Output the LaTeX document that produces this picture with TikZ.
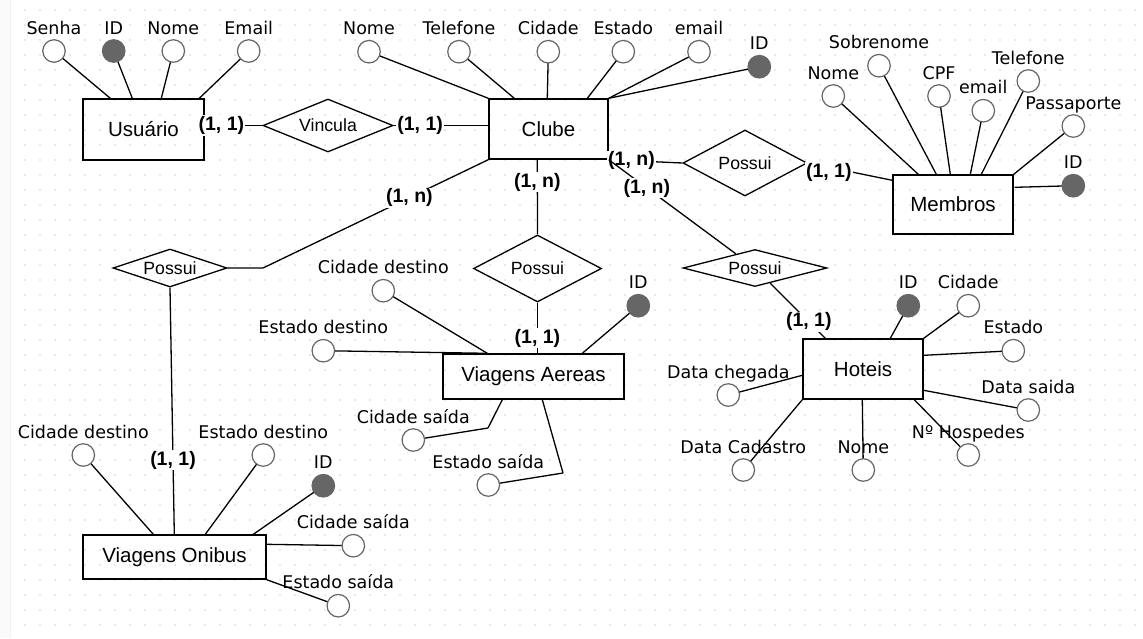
\documentclass[tikz,border=0pt]{standalone}
\usepackage{fontspec}
\usetikzlibrary{shapes.geometric,calc}
\newfontfamily\attrfont{DejaVu Sans}
\newfontfamily\entfont{Liberation Sans}
\definecolor{attrgray}{HTML}{666666}
\definecolor{dotgray}{HTML}{D2D2D2}

\begin{document}
\begin{tikzpicture}[x=1pt,y=-1pt,label distance=0.8pt,
    ent/.style={draw,line width=1.4pt,inner sep=0pt,font=\entfont\fontsize{20.5}{24}\selectfont},
    rel/.style={diamond,draw,line width=1.3pt,inner sep=0pt,font=\entfont\fontsize{17.7}{21}\selectfont},
    attr/.style={circle,draw=attrgray,fill=white,line width=1.2pt,minimum size=22.5pt,inner sep=0pt},
    key/.style={attr,fill=attrgray},
    lbl/.style={inner sep=0pt,text height=13pt,text depth=4pt,font=\attrfont\fontsize{17.5}{20}\selectfont},
    card/.style={fill=white,inner sep=1pt,font=\entfont\bfseries\fontsize{19.5}{22}\selectfont},
    link/.style={line width=1.3pt}]
  \useasboundingbox (0,0) rectangle (1143,638);
  % background grid
  \fill[white] (0,0) rectangle (1143,638);
  \fill[gray!4] (0,0) rectangle (10,638);
  \draw[gray!12] (10,0) -- (10,638);
  \foreach \i in {0,...,74}
    \foreach \j in {0,...,41}
      \fill[dotgray] ({25+15*\i},{10+15*\j}) circle (0.9);

  % entities
  \node[ent,minimum width=121pt,minimum height=61pt] (usuario) at (143.5,129.5) {Usuário};
  \node[ent,minimum width=119pt,minimum height=60pt] (clube) at (548.5,129) {Clube};
  \node[ent,minimum width=120pt,minimum height=59pt] (membros) at (953,204.5) {Membros};
  \node[ent,minimum width=181pt,minimum height=45pt] (viagensA) at (533.5,376.5) {Viagens Aereas};
  \node[ent,minimum width=120pt,minimum height=60pt] (hoteis) at (863,369) {Hoteis};
  \node[ent,minimum width=183pt,minimum height=44pt] (viagensO) at (174.5,557) {Viagens Onibus};

  % relationships
  \node[rel,minimum width=130pt,minimum height=53pt,aspect=2.45] (vincula) at (328,125.5) {Vincula};
  \node[rel,minimum width=124pt,minimum height=66pt,aspect=1.9] (possuiM) at (745,163) {Possui};
  \node[rel,minimum width=114pt,minimum height=38pt,aspect=3] (possuiL) at (170,268) {Possui};
  \node[rel,minimum width=128pt,minimum height=67pt,aspect=1.9] (possuiA) at (537.5,268.5) {Possui};
  \node[rel,minimum width=144pt,minimum height=37pt,aspect=3.9] (possuiH) at (755,268) {Possui};

  % bends of the saida attributes
  \coordinate (vaCidSbend) at (488,428);
  \coordinate (vaEstSbend) at (563,473);
  \draw[link] ($(viagensA.south west)+(60,0)$) -- (vaCidSbend);
  \draw[link] ($(viagensA.south west)+(100,0)$) -- (vaEstSbend);

  % attributes
  \foreach \n/\s/\p/\t/\e/\o in {
      usSenha/attr/{54,51}/Senha/usuario.north west/{28,0},
      usID/key/{113.7,51}/ID/usuario.north west/{50,0},
      usNome/attr/{173.3,51}/Nome/usuario.north west/{79,0},
      usEmail/attr/{248.7,51}/Email/usuario.north west/{117,0},
      clNome/attr/{369,51.7}/Nome/clube.north west/{0,0},
      clTel/attr/{459,51.7}/Telefone/clube.north west/{26,0},
      clCid/attr/{548.3,51.7}/Cidade/clube.north west/{59,0},
      clEst/attr/{623.3,51.7}/Estado/clube.north west/{99,0},
      clEmail/attr/{699,51.7}/email/clube.north east/{0,0},
      clID/key/{759.3,66.7}/ID/clube.north east/{0,0},
      meNome/attr/{833.3,96}/Nome/membros.north west/{26,0},
      meSobre/attr/{879,65.7}/Sobrenome/membros.north west/{44,0},
      meCPF/attr/{939,96}/CPF/membros.north west/{58,0},
      meEmail/attr/{983.3,110.7}/email/membros.north west/{78,0},
      meTel/attr/{1028.3,81}/Telefone/membros.north west/{89,0},
      mePass/attr/{1073.3,126}/Passaporte/membros.north east/{0,0},
      meID/key/{1073.3,185.7}/ID/membros.north east/{1,13},
      vaCidD/attr/{383.3,290.7}/Cidade destino/viagensA.north west/{45,0},
      vaEstD/attr/{323.3,350.7}/Estado destino/viagensA.north west/{45,0},
      vaID/key/{638.3,305.7}/ID/viagensA.north west/{140,0},
      vaCidS/attr/{413.3,440}/Cidade saída/vaCidSbend/{0,0},
      vaEstS/attr/{488.3,485}/Estado saída/vaEstSbend/{0,0},
      hoID/key/{908.3,305.7}/ID/hoteis.north west/{88,0},
      hoCid/attr/{968.3,305.7}/Cidade/hoteis.north east/{0,0},
      hoEst/attr/{1013.3,350.7}/Estado/hoteis.north east/{0,17},
      hoDataS/attr/{1028.3,410}/Data saida/hoteis.north east/{0,52},
      hoHosp/attr/{968.3,455}/Nº Hospedes/hoteis.south west/{112,0},
      hoNome/attr/{863.3,470}/Nome/hoteis.south west/{60,0},
      hoDataC/attr/{743.3,470}/Data Cadastro/hoteis.south west/{0,0},
      hoCheg/attr/{728.3,395}/Data chegada/hoteis.north west/{0,37},
      voCidD/attr/{83.3,455}/Cidade destino/viagensO.north west/{71,0},
      voEstD/attr/{263.3,455}/Estado destino/viagensO.north west/{123,0},
      voID/key/{323.3,485.7}/ID/viagensO.north west/{171,0},
      voCidS/attr/{353.3,545.7}/Cidade saída/viagensO.north east/{0,10},
      voEstS/attr/{338.3,605.7}/Estado saída/viagensO.south east/{0,0}}{
    \draw[link] (\p) -- ($(\e)+(\o)$);
    \node[\s,label={[lbl]above:\t}] (\n) at (\p) {};
  }

  % relationship links
  \draw[link] (usuario.east |- vincula.west) -- node[card,pos=0.29] {(1, 1)} (vincula.west);
  \draw[link] (vincula.east) -- node[card,pos=0.28] {(1, 1)} (clube.west |- vincula.east);
  \draw[link] (clube.south east) -- node[card,pos=0.31] {(1, n)} (possuiM.west);
  \draw[link] (possuiM.east) -- node[card,pos=0.25,yshift=-5pt] {(1, 1)} ($(membros.north west)+(0,6)$);
  \coordinate (bendL) at (263,268);
  \draw[link] (clube.south west) -- node[card,pos=0.35] {(1, n)} (bendL) -- (possuiL.east);
  \draw[link] (possuiL.south) -- node[card,pos=0.7] {(1, 1)} ($(viagensO.north west)+(92,0)$);
  \draw[link] ($(clube.south west)+(49,0)$) -- node[card,pos=0.3] {(1, n)} (possuiA.north);
  \draw[link] (possuiA.south) -- node[card,pos=0.7] {(1, 1)} (possuiA.south |- viagensA.north);
  \draw[link] (clube.south east) -- node[card,pos=0.3] {(1, n)} (possuiH);
  \draw[link] (possuiH) -- node[card,pos=0.7] {(1, 1)} ($(hoteis.north west)+(23,0)$);
\end{tikzpicture}
\end{document}
